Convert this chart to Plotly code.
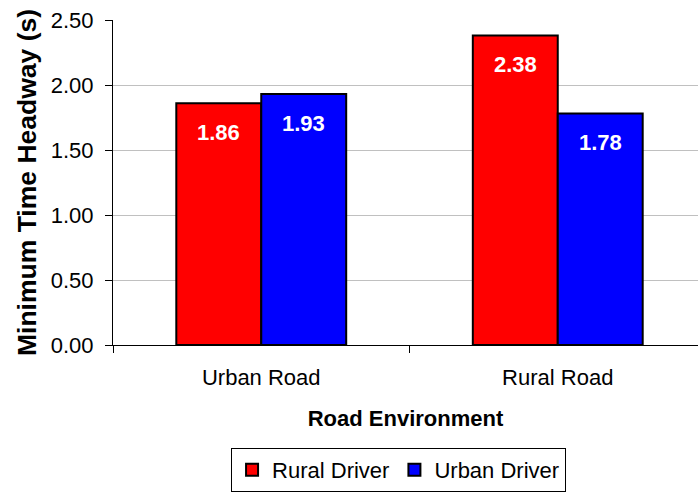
import plotly.graph_objects as go

# Minimum time headway by road environment and driver group
road_types = ["Urban Road", "Rural Road"]
rural_driver = [1.86, 2.38]
urban_driver = [1.93, 1.78]
y_ticks = [0.0, 0.5, 1.0, 1.5, 2.0, 2.5]
y_tick_labels = ["0.00", "0.50", "1.00", "1.50", "2.00", "2.50"]

FONT = "Liberation Sans, Arial, sans-serif"
BAR_GAP = 0.427
bar_w = (1 - BAR_GAP) / 2

fig = go.Figure()
fig.add_trace(go.Bar(
    name="Rural Driver", x=road_types, y=rural_driver,
    marker=dict(color="#ff0000", line=dict(color="black", width=2)),
))
fig.add_trace(go.Bar(
    name="Urban Driver", x=road_types, y=urban_driver,
    marker=dict(color="#0000ff", line=dict(color="black", width=2)),
))

# White value labels just inside the top of each bar
for series, sign in ((rural_driver, -1), (urban_driver, 1)):
    for i, v in enumerate(series):
        fig.add_annotation(
            x=i + sign * bar_w / 2, y=v, xref="x", yref="y",
            text=f"<b>{v:.2f}</b>", showarrow=False,
            yanchor="middle", yshift=-29,
            font=dict(family=FONT, size=22, color="white"),
        )

fig.update_layout(
    width=698, height=493,
    margin=dict(l=113, r=0, t=20, b=148),
    paper_bgcolor="white", plot_bgcolor="white",
    barmode="group", bargap=BAR_GAP, bargroupgap=0,
    font=dict(family=FONT, size=22, color="black"),
    showlegend=True,
    legend=dict(
        orientation="h", xref="container", yref="container",
        x=0.571, xanchor="center", y=0.047, yanchor="middle",
        bordercolor="black", borderwidth=1,
        font=dict(family=FONT, size=22, color="black"),
        itemwidth=30, tracegroupgap=0,
    ),
    xaxis=dict(
        type="category", range=[-0.5, 1.473],
        showline=True, linecolor="black", linewidth=1,
        ticks="outside", ticklen=7, tickcolor="black",
        tickson="boundaries", ticklabelstandoff=13,
        showgrid=False, zeroline=False,
        tickfont=dict(family=FONT, size=22, color="black"),
        title=dict(text="<b>Road Environment</b>", standoff=21,
                   font=dict(family=FONT, size=22, color="black")),
    ),
    yaxis=dict(
        range=[0, 2.5], tickvals=y_ticks, ticktext=y_tick_labels,
        showline=True, linecolor="black", linewidth=1,
        ticks="outside", ticklen=7, tickcolor="black",
        showgrid=True, gridcolor="#c0c0c0", gridwidth=1,
        zeroline=False, ticklabelstandoff=7,
        tickfont=dict(family=FONT, size=22, color="black"),
        title=dict(text="<b>Minimum Time Headway (s)</b>", standoff=6,
                   font=dict(family=FONT, size=26.5, color="black")),
    ),
)

fig.write_html("out.html")
